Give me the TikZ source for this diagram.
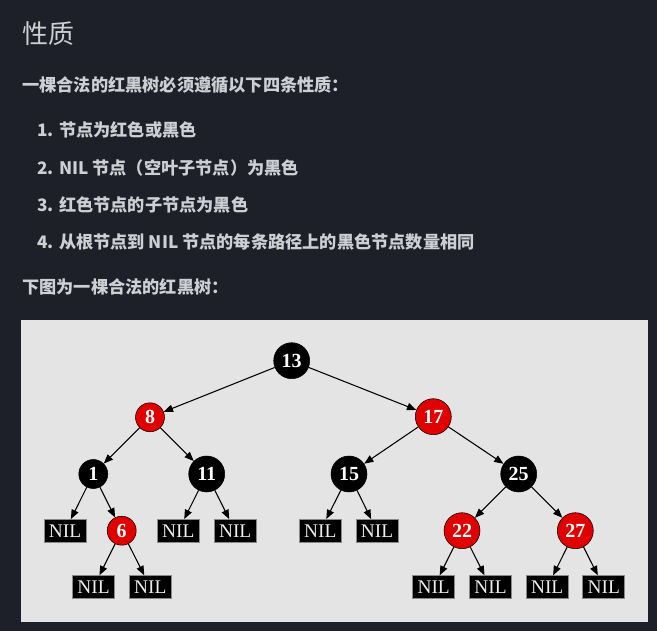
\documentclass[tikz,border=0pt]{standalone}
\usepackage{fontspec}
\setmainfont{Liberation Serif}
\newfontfamily\cjk{Noto Sans CJK SC}
\usepackage{tikz}
\usetikzlibrary{arrows.meta}
\definecolor{pagebg}{HTML}{1E2029}
\definecolor{pagetext}{HTML}{CDCFD3}
\definecolor{panelbg}{HTML}{E4E4E4}
\definecolor{rbred}{HTML}{E00000}
\definecolor{nilborder}{HTML}{8A8A8A}

\begin{document}
\begin{tikzpicture}[x=0.75pt,y=-0.75pt,
  txt/.style={anchor=west,inner sep=0pt,text=pagetext,font=\cjk\bfseries\fontsize{12.9}{15}\selectfont},
  bnode/.style={circle,fill=black,draw=black,inner sep=0pt,minimum size=27pt,text=white,font=\bfseries\fontsize{15}{16}\selectfont},
  snode/.style={bnode,minimum size=21.75pt},
  rnode/.style={fill=rbred},
  nil/.style={rectangle,fill=black,draw=nilborder,line width=0.6pt,inner sep=0pt,minimum width=31.5pt,minimum height=17.25pt,text=white!93!black,font=\fontsize{14.5}{16}\selectfont},
  edge/.style={-{Triangle[length=7pt,width=5.5pt]},line width=0.8pt}]
\useasboundingbox (0,0) rectangle (657,631);
\fill[pagebg] (0,0) rectangle (657,631);

% heading and list
\node[txt,font=\cjk\fontsize{19.5}{22}\selectfont] (title) at (22,33.5) {性质};
\node[txt] (intro) at (22,85) {一棵合法的红黑树必须遵循以下四条性质：};
\node[txt] (p1) at (37,130) {1. 节点为红色或黑色};
\node[txt] (p2) at (37,168) {2. NIL 节点（空叶子节点）为黑色};
\node[txt] (p3) at (37,205) {3. 红色节点的子节点为黑色};
\node[txt] (p4) at (37,242) {4. 从根节点到 NIL 节点的每条路径上的黑色节点数量相同};
\node[txt] (below) at (22,287) {下图为一棵合法的红黑树：};

% tree panel
\fill[panelbg] (21,320) rectangle (648,622);

\node[bnode] (n13) at (291.7,360.7) {13};
\node[snode,rnode] (n8) at (150,417.3) {8};
\node[bnode,rnode] (n17) at (433.3,416.7) {17};
\node[snode] (n1) at (93.3,474) {1};
\node[bnode] (n11) at (206.7,474) {11};
\node[bnode] (n15) at (349,474) {15};
\node[bnode] (n25) at (518.7,474) {25};
\node[nil] (nil1) at (65,531) {NIL};
\node[snode,rnode] (n6) at (121.7,530.7) {6};
\node[nil] (nil11a) at (178.3,531) {NIL};
\node[nil] (nil11b) at (235.2,531) {NIL};
\node[nil] (nil15a) at (320.3,531) {NIL};
\node[nil] (nil15b) at (377,531) {NIL};
\node[bnode,rnode] (n22) at (462,530.7) {22};
\node[bnode,rnode] (n27) at (575.3,530.7) {27};
\node[nil] (nil6a) at (93.5,587.2) {NIL};
\node[nil] (nil6b) at (150.3,587.2) {NIL};
\node[nil] (nil22a) at (433.7,587.2) {NIL};
\node[nil] (nil22b) at (490.5,587.2) {NIL};
\node[nil] (nil27a) at (547.2,587.2) {NIL};
\node[nil] (nil27b) at (603.8,587.2) {NIL};

\foreach \a/\b in {n13/n8,n13/n17,n8/n1,n8/n11,n17/n15,n17/n25,
  n1/nil1,n1/n6,n11/nil11a,n11/nil11b,n15/nil15a,n15/nil15b,n25/n22,n25/n27,
  n6/nil6a,n6/nil6b,n22/nil22a,n22/nil22b,n27/nil27a,n27/nil27b}
  \draw[edge] (\a) -- (\b);

\end{tikzpicture}
\end{document}
